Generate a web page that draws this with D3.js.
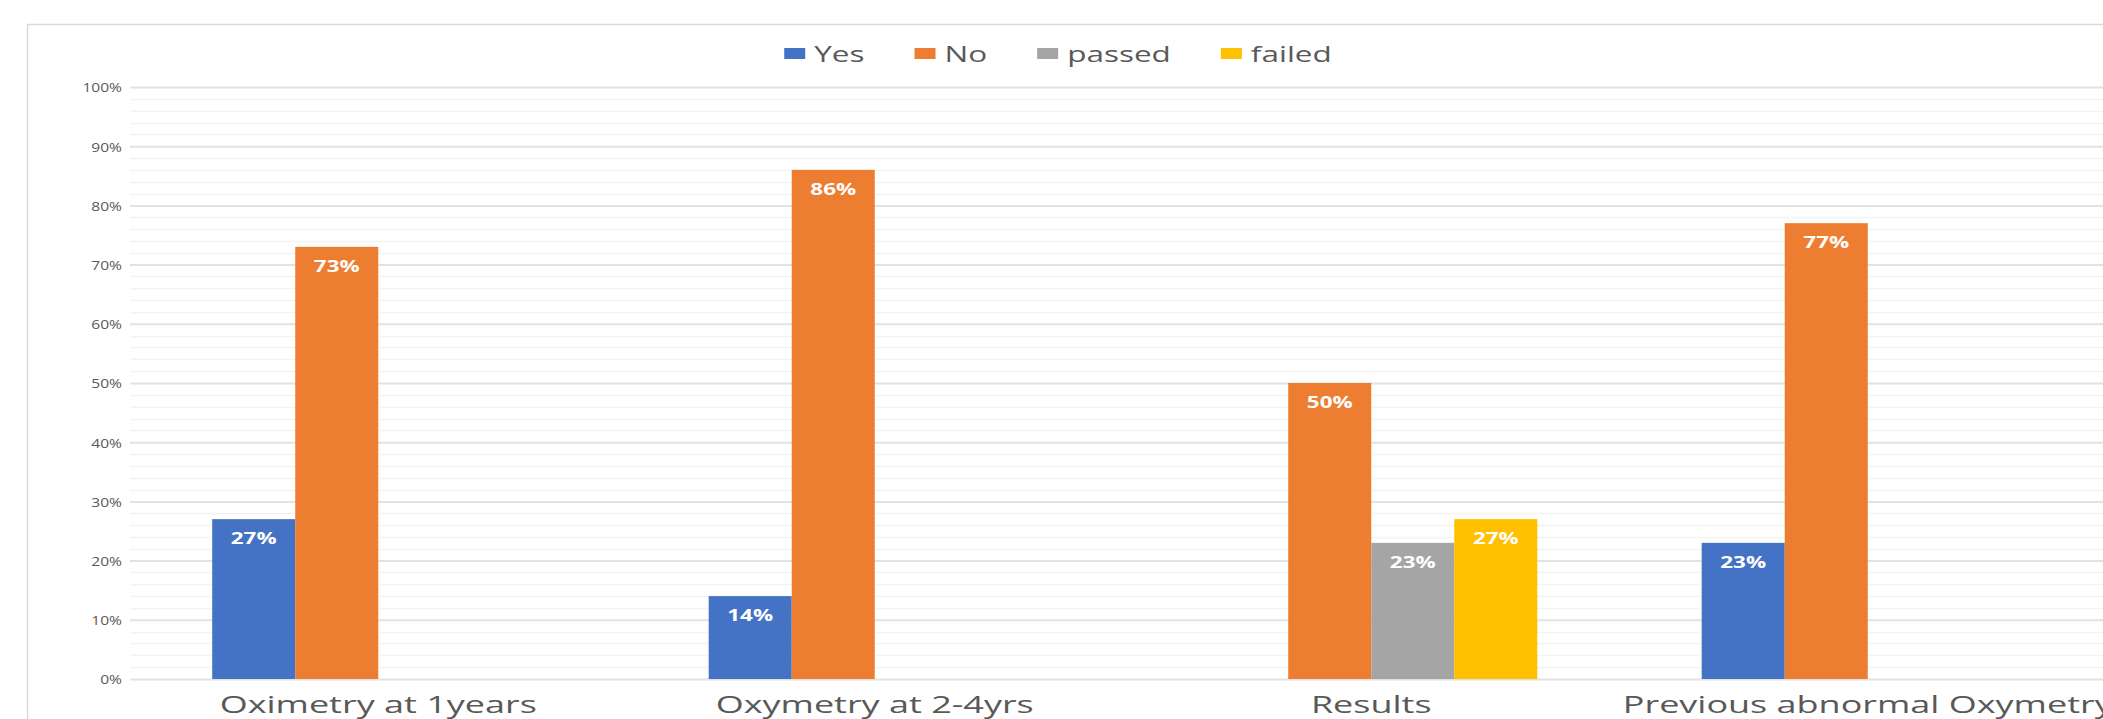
<!DOCTYPE html>
<html>
<head>
<meta charset="utf-8">
<script src="https://cdn.jsdelivr.net/npm/d3@7"></script>
<style>
  html, body { margin: 0; padding: 0; background: #ffffff; }
  svg { display: block; }
  text { font-family: "Open Sans", "DejaVu Sans", sans-serif; }
</style>
</head>
<body>
<svg id="chart" width="2103" height="719"></svg>
<script>
// Categories and series values (share of respondents)
const categories = ["Oximetry at 1years", "Oxymetry at 2-4yrs", "Results", "Previous abnormal Oxymetry"];
const seriesNames = ["Yes", "No", "passed", "failed"];
const yesValues    = [0.27, 0.14, null, 0.23];
const noValues     = [0.73, 0.86, 0.50, 0.77];
const passedValues = [null, null, 0.23, null];
const failedValues = [null, null, 0.27, null];
const yTickValues  = [0, 0.1, 0.2, 0.3, 0.4, 0.5, 0.6, 0.7, 0.8, 0.9, 1.0];

const seriesColors = ["#4472C4", "#ED7D31", "#A5A5A5", "#FFC000"];
const seriesValues = [yesValues, noValues, passedValues, failedValues];

const svg = d3.select("#chart");
const W = 2103, H = 719;

// Plot area
const plot = { left: 130, right: 2116, top: 87, bottom: 679 };

const x = d3.scaleBand().domain(categories).range([plot.left, plot.right]).paddingInner(0).paddingOuter(0);
const xs = d3.scaleBand().domain(seriesNames).range([0, x.bandwidth()]).paddingInner(0).paddingOuter(0.99);
const y = d3.scaleLinear().domain([0, 1]).range([plot.bottom, plot.top]);
const color = d3.scaleOrdinal().domain(seriesNames).range(seriesColors);
const pct = d3.format(".0%");

// helper: place horizontally widened text
function stretched(sel, px, py, s) {
  return sel.attr("transform", `translate(${px},${py}) scale(${s},1)`);
}

// Chart frame
svg.append("rect")
  .attr("x", 27.5).attr("y", 24.5)
  .attr("width", 2300).attr("height", 900)
  .attr("fill", "#ffffff")
  .attr("stroke", "#d9d9d9").attr("stroke-width", 1.5);

// Minor gridlines (every 2%)
const minorTicks = d3.range(0, 1.0001, 0.02).filter(v => Math.abs(v * 10 - Math.round(v * 10)) > 1e-6);
svg.append("g").selectAll("line").data(minorTicks).join("line")
  .attr("x1", plot.left).attr("x2", W)
  .attr("y1", d => Math.round(y(d)) + 0.5).attr("y2", d => Math.round(y(d)) + 0.5)
  .attr("stroke", "#f3f3f3").attr("stroke-width", 1.5);

// Major gridlines and percentage ticks
const yAxis = d3.axisLeft(y).tickValues(yTickValues).tickFormat(pct).tickSize(-(W - plot.left)).tickPadding(0);
const gy = svg.append("g").attr("transform", `translate(${plot.left},0)`).call(yAxis);
gy.select(".domain").remove();
gy.selectAll(".tick line").attr("stroke", "#e2e2e2").attr("stroke-width", 2);
gy.selectAll(".tick text")
  .attr("x", null).attr("dy", null)
  .attr("text-anchor", "end")
  .attr("dominant-baseline", "central")
  .attr("fill", "#595959")
  .attr("font-size", 13)
  .attr("transform", "translate(-8,0) scale(1.2,1)");

// Bars with value labels
const groups = svg.append("g").selectAll("g").data(categories).join("g")
  .attr("transform", d => `translate(${x(d)},0)`);

const barData = (cat, ci) => seriesNames.map((s, si) => ({ cat, s, v: seriesValues[si][ci] })).filter(d => d.v != null);

groups.each(function (cat, ci) {
  const g = d3.select(this);
  const data = barData(cat, ci);
  g.selectAll("rect").data(data).join("rect")
    .attr("x", d => xs(d.s))
    .attr("width", xs.bandwidth())
    .attr("y", d => y(d.v))
    .attr("height", d => y(0) - y(d.v))
    .attr("fill", d => color(d.s));
  g.selectAll("text").data(data).join("text")
    .text(d => pct(d.v))
    .attr("text-anchor", "middle")
    .attr("font-size", 16)
    .attr("font-weight", 700)
    .attr("fill", "#ffffff")
    .each(function (d) {
      stretched(d3.select(this), xs(d.s) + xs.bandwidth() / 2, y(d.v) + 25, 1.4);
    });
});

// Category labels
const gx = svg.append("g");
gx.selectAll("text").data(categories).join("text")
  .text(d => d)
  .attr("text-anchor", "middle")
  .attr("font-size", 24)
  .attr("fill", "#595959")
  .each(function (d) {
    stretched(d3.select(this), x(d) + x.bandwidth() / 2, 713, 1.5);
  });

// Legend
const LS = 1.5;
const legend = svg.append("g");
const items = legend.selectAll("g").data(seriesNames).join("g");
items.append("rect").attr("width", 21).attr("height", 11).attr("y", -6).attr("fill", d => color(d));
items.append("text").text(d => d)
  .attr("font-size", 21).attr("fill", "#595959")
  .attr("dominant-baseline", "central")
  .attr("transform", `translate(30,0) scale(${LS},1)`);
let cursor = 0;
const positions = [];
items.each(function () {
  const w = 30 + d3.select(this).select("text").node().getComputedTextLength() * LS;
  positions.push(cursor);
  cursor += w + 50;
});
const totalW = cursor - 50;
const legendStart = 1058 - totalW / 2;
items.attr("transform", (d, i) => `translate(${legendStart + positions[i]},54)`);
</script>
</body>
</html>
